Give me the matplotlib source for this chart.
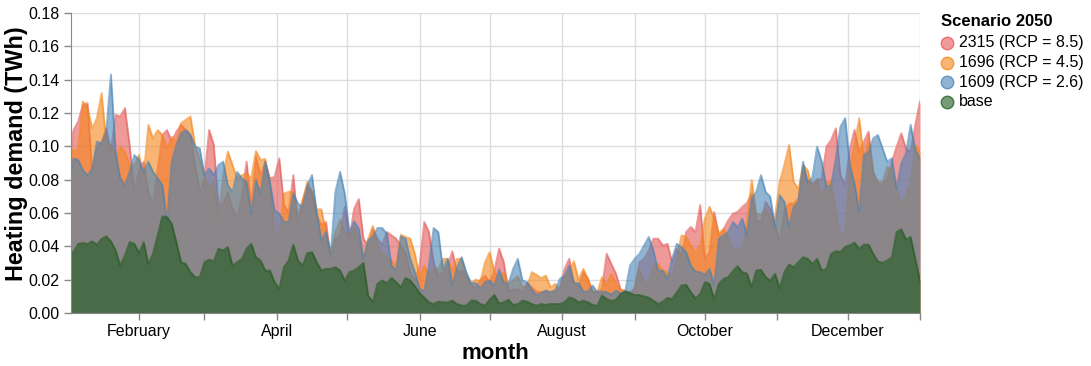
import numpy as np
import pandas as pd
import matplotlib
matplotlib.use('Agg')
import matplotlib.pyplot as plt
import matplotlib.dates as mdates
from matplotlib.ticker import FixedLocator, FuncFormatter

plt.rcParams['font.family'] = ['Liberation Sans', 'DejaVu Sans']

# daily heating demand, read every second day (GWh), Jan 2 2050 -> Jan 1 2051
days = pd.date_range('2050-01-02', periods=183, freq='2D')

base_gwh = [36.5, 36.5, 41.5, 42, 41.5, 43, 41, 44.5, 46, 43,
            37.5, 28.5, 34.5, 42.5, 41.5, 36, 42.5, 29.5, 35.5, 46.5,
            58, 57.5, 53.5, 42.5, 30.5, 29.5, 24.5, 21.5, 21.5, 30.5,
            32, 31, 38.5, 37.5, 39.5, 28.5, 30.5, 32.5, 38.5, 41.5,
            33.5, 31.5, 25.5, 25.5, 18.5, 14.5, 27.5, 31.5, 41, 31.5,
            28.5, 36, 36.5, 30.5, 25.5, 26.5, 26.5, 27.5, 25.5, 19.5,
            24.5, 25.5, 27.5, 30, 10.5, 6.5, 17.5, 19.5, 18, 21,
            18.5, 15.5, 21, 19.5, 16, 12, 9.2, 6.4, 5.4, 6.8,
            6.4, 6.4, 7.4, 5.4, 4.4, 4.4, 7.4, 7.4, 5.4, 4.4,
            8, 10.8, 5.8, 6.4, 8, 4.8, 5.4, 7.4, 6.8, 5.4,
            4.4, 5.4, 4.8, 5.4, 5.4, 5.4, 6.4, 9.4, 8.4, 6.4,
            7.4, 6.4, 4.8, 4.4, 10.4, 8.4, 7.2, 8, 11.4, 12.9,
            12, 10.8, 10.8, 10, 9.2, 7.4, 5.4, 6.8, 9, 8.4,
            12.5, 16.5, 16.9, 12.5, 8.8, 11.4, 18.5, 17.5, 8.4, 17.5,
            20.5, 21.5, 25.1, 28.1, 24.5, 23.7, 15.5, 25.5, 25.9, 21.5,
            19.5, 23.5, 14.9, 24.5, 29.1, 27.5, 30.5, 33.5, 32.5, 29.5,
            32.5, 25.5, 26.5, 35.5, 37.1, 36.5, 39.6, 40.6, 42.2, 38.6,
            41, 41, 35.5, 30.9, 30.1, 31.5, 33.5, 48.6, 50.2, 44.2,
            45.6, 32.5, 19.5]

rcp26_gwh = [76.7, 92.8, 91.8, 85.7, 82.7, 86.7, 102.8, 101.8, 108.8, 143,
             96.8, 80.7, 76.7, 84.7, 94.8, 91.8, 84.7, 90.8, 84.7, 80.7,
             76.7, 54.6, 90.8, 100.8, 107.8, 109.8, 106.8, 99.8, 98.8, 82.7,
             86.7, 82.7, 88.8, 90.8, 76.7, 72.7, 84.7, 80.7, 78.7, 59.6,
             79.7, 71.7, 90.8, 78.7, 61.6, 59.6, 54.6, 54.6, 71.7, 65.7,
             63.7, 76.7, 82.7, 60.6, 43.6, 48.6, 35.5, 72.7, 84.7, 71.7,
             48.6, 55, 50.6, 32.5, 43.6, 46, 51, 51, 47.6, 28.5,
             25.5, 46, 44.6, 32.5, 24.5, 14.5, 12.9, 28.5, 51, 48.6,
             26.5, 32.5, 16.5, 27.5, 33.5, 24.5, 17.9, 18, 14.9, 18.5,
             19.5, 16.5, 26.1, 18.5, 17.5, 26.5, 32.5, 19.5, 18.5, 14,
             10.8, 12, 13.5, 12.5, 13.5, 20.5, 22.5, 28.5, 18, 18,
             12.9, 12.9, 16.5, 12.5, 12.9, 12.5, 11.2, 13.5, 11.8, 13.3,
             28.5, 32.5, 35.5, 40.6, 45.6, 37.5, 25.5, 25.5, 20.5, 32.5,
             41.5, 39.6, 36.5, 28.5, 24.9, 24.5, 22.9, 26.5, 16.5, 44.6,
             46.6, 48.6, 54.6, 51.6, 56.6, 47, 68.7, 72.7, 82.7, 72.7,
             69.7, 51.6, 70.7, 66.7, 51.6, 63.7, 66.7, 90.8, 77.7, 81.7,
             99.8, 90.8, 75.7, 76.7, 92.8, 111.8, 116.9, 88.8, 77.7, 60.6,
             94.8, 96.8, 104.8, 106.8, 98.8, 90.8, 92.8, 74.7, 89.8, 95.8,
             112.9, 97.8, 92.8]

rcp85_gwh = [90.8, 109.8, 114.9, 124.9, 125.9, 84.7, 99.8, 102.8, 110.8, 96.8,
             118.9, 117.9, 122.9, 100.8, 72.7, 85.7, 90.8, 72.7, 64.7, 86.7,
             106.8, 109.8, 102.8, 108.8, 112.9, 109.8, 106.8, 88.8, 72.7, 80.7,
             109.8, 100.8, 64.7, 65.7, 72.7, 62.6, 57.6, 69.7, 90.8, 64.7,
             93.8, 82.7, 90.8, 80.7, 81.7, 92.8, 64.7, 60.6, 82.7, 52.6,
             67.7, 75.7, 72.7, 58.6, 53, 54.6, 32.5, 44.6, 46.6, 63.7,
             44.6, 62.6, 68.3, 44.6, 40.6, 50.6, 44.6, 41, 48.6, 46.6,
             44.6, 40, 36, 24.5, 19.5, 28.5, 54.6, 48.6, 30.5, 22.5,
             24.5, 28.5, 37, 24.5, 25.5, 22.5, 17.5, 14.5, 20, 22.5,
             18.5, 25.5, 38.6, 30.5, 13.5, 14, 14.5, 12.5, 18, 15.5,
             12.9, 12.5, 13.3, 12.5, 13.5, 14.9, 26.5, 32.5, 18, 16,
             24.5, 20.5, 12.9, 12.5, 14.5, 35.5, 29.5, 23.5, 14, 13.3,
             12.5, 14.5, 30.5, 32.5, 37.5, 44.6, 44.6, 40.6, 41.5, 30.5,
             38.6, 34.5, 48.6, 51.6, 48.6, 64.7, 32.5, 36.5, 60.6, 46.6,
             50.2, 55.6, 59.6, 60.6, 63.7, 66, 71.7, 55.6, 55, 66.7,
             62.2, 53, 43, 61.6, 65.7, 65.7, 68.7, 86.7, 79.7, 77.7,
             79.7, 80.7, 99.8, 103.8, 110.8, 82.7, 76.7, 98.8, 109.8, 96.8,
             102.8, 108.8, 84.7, 77.7, 76.7, 80.7, 90.8, 99.8, 107.8, 98.8,
             96.8, 112.9, 126.9]

rcp45_gwh = [100.8, 96.8, 98.8, 126.9, 122.9, 110.8, 116.9, 131.9, 102.8, 100.8,
             94.8, 99.8, 96.8, 88.8, 88.8, 94.8, 82.7, 112.9, 104.8, 109.8,
             106.8, 98.8, 105.8, 102.8, 113.9, 115.9, 117.9, 100.8, 91.8, 81.7,
             74.7, 78.7, 56.6, 82.7, 96.8, 88.8, 80.7, 82.7, 83.7, 81,
             97.2, 91.8, 92.4, 76.7, 47.6, 46.6, 71.7, 72.7, 72.7, 59,
             67.7, 78.7, 72.7, 62.2, 62.2, 48.6, 36.5, 48.6, 56.2, 48.6,
             46.6, 51.6, 44.6, 32.5, 44.6, 52.2, 40.6, 35.5, 34, 31.5,
             28.5, 47, 45.6, 44.6, 35.5, 21.5, 28.5, 22.5, 26.5, 26.5,
             32.5, 32.5, 25.5, 32.5, 32.5, 22.5, 18, 20, 19, 30.5,
             36.5, 24.5, 21.5, 24.1, 17.5, 19.5, 22.1, 15.5, 16, 24.5,
             22.9, 20.9, 22.5, 15.5, 17.5, 14.5, 20.9, 25.5, 31, 20,
             26.5, 20.5, 12.5, 12.5, 21.5, 16.5, 23.5, 17.5, 14, 12.5,
             10.4, 15.5, 26.5, 18.5, 17.5, 28.5, 29.5, 25.5, 24.5, 22.1,
             32.5, 46.6, 45.6, 40.6, 36.5, 40.6, 56.6, 63.7, 56.6, 47.6,
             50.6, 45.6, 37.5, 38.6, 37.5, 55, 79.7, 59.6, 59, 62.2,
             56.6, 57.6, 78.7, 88.8, 100.8, 78.7, 74.3, 88.8, 85.7, 73.7,
             80.7, 68.7, 78.7, 78.7, 60.6, 46.6, 48.6, 86.7, 100.8, 116.9,
             92.8, 104.8, 83.7, 78.7, 78.7, 87.7, 85.7, 74.7, 64.7, 70.7,
             78.7, 100.8, 96.8]

labels = ['2315 (RCP = 8.5)', '1696 (RCP = 4.5)', '1609 (RCP = 2.6)', 'base']
colors = ['#e45756', '#f58518', '#4682b4', '#1f5a1c']
series = [rcp85_gwh, rcp45_gwh, rcp26_gwh, base_gwh]

fig = plt.figure(figsize=(10.91, 3.66), dpi=100)
ax = fig.add_axes([71 / 1091, 1 - 313 / 366, 849 / 1091, 300 / 366])

for vals, col in zip(series, colors):
    y = np.array(vals) / 1000.0
    ax.fill_between(days, 0, y, color=col, alpha=0.6, lw=0, zorder=2)
    ax.plot(days, y, color=col, alpha=0.6, lw=1.4, zorder=2)

ax.set_xlim(pd.Timestamp('2050-01-02 22:00'), pd.Timestamp('2051-01-01'))
ax.set_ylim(0, 0.18)

month_starts = pd.date_range('2050-02-01', '2051-01-01', freq='MS')
ax.xaxis.set_major_locator(FixedLocator(mdates.date2num(month_starts)))


def month_label(x, pos):
    d = mdates.num2date(x)
    if d.year == 2050 and d.month % 2 == 0:
        return d.strftime('%B')
    return ''


ax.xaxis.set_major_formatter(FuncFormatter(month_label))
ax.set_yticks(np.arange(0, 0.181, 0.02))
ax.yaxis.set_major_formatter(FuncFormatter(lambda v, p: '%.2f' % v))

ax.grid(True, color='#dddddd', lw=1, zorder=0)
ax.set_axisbelow(True)
for s in ['top', 'right']:
    ax.spines[s].set_visible(False)
for s in ['left', 'bottom']:
    ax.spines[s].set_color('#888888')
    ax.spines[s].set_zorder(3)
ax.tick_params(colors='#888888', length=5, width=1, labelsize=11.5, labelcolor='black')
ax.tick_params(axis='x', pad=3)

ax.set_xlabel('month', fontsize=16, fontweight='bold', labelpad=3)
fig.text(17 / 1091, 1 - 154 / 366, 'Heating demand (TWh)', rotation=90,
         fontsize=16.8, fontweight='bold', ha='center', va='center')

# legend drawn by hand, symbols as circles
fig.text(941 / 1091, 1 - 21 / 366, 'Scenario 2050', fontsize=12, fontweight='bold',
         va='center', ha='left')
rows = [43, 62.5, 82, 101.5]
for lab, col, ry in zip(labels, colors, rows):
    rgb = matplotlib.colors.to_rgb(col)
    fig.lines.append(plt.Line2D([947 / 1091], [1 - ry / 366], transform=fig.transFigure,
                                marker='o', markersize=9, linestyle='none',
                                markerfacecolor=rgb + (0.6,), markeredgecolor=rgb + (0.75,),
                                markeredgewidth=1))
    fig.text(959 / 1091, 1 - ry / 366, lab, fontsize=11.5, va='center', ha='left')

fig.savefig('out.png', dpi=100)
